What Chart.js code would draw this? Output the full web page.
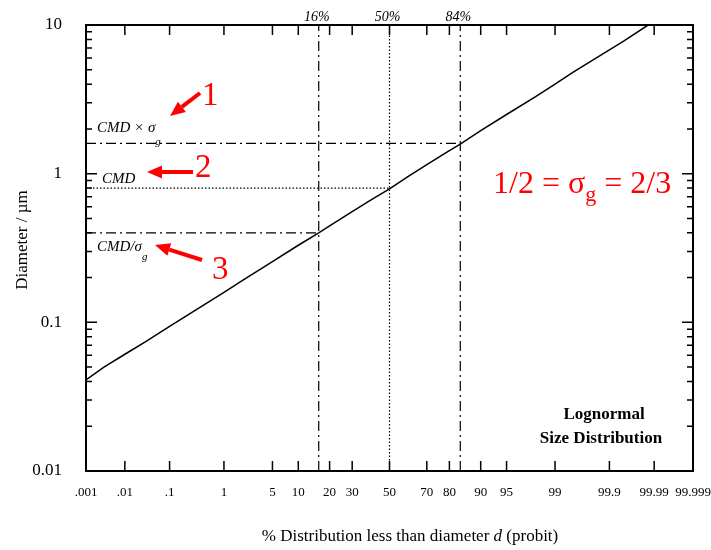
<!DOCTYPE html>
<html>
<head>
<meta charset="utf-8">
<title>Lognormal size distribution</title>
<script src="https://cdn.jsdelivr.net/npm/chart.js@4.4.0/dist/chart.umd.min.js"></script>
<style>
  html, body { margin: 0; padding: 0; background: #fff; }
  #wrap { width: 711px; height: 550px; }
</style>
</head>
<body>
<div id="wrap"><canvas id="chart" width="711" height="550"></canvas></div>
<script>
// probit axis ticks (% less than d)
const pctTicks  = [0.001, 0.01, 0.1, 1, 5, 10, 20, 30, 50, 70, 80, 90, 95, 99, 99.9, 99.99, 99.999];
const pctLabels = ['.001', '.01', '.1', '1', '5', '10', '20', '30', '50', '70', '80', '90', '95', '99', '99.9', '99.99', '99.999'];

// diameter axis (um)
const diamTicks  = [0.01, 0.1, 1, 10];
const diamLabels = ['0.01', '0.1', '1', '10'];

// cumulative curve
const curvePct  = [0.001, 0.003, 0.01, 0.03, 0.1, 0.3, 1, 2, 5, 10, 16, 20, 30, 40, 50, 60, 70, 80, 84, 90, 95, 98, 99, 99.5, 99.9, 99.95, 99.986];
const curveDiam = [0.041, 0.05, 0.061, 0.074, 0.094, 0.119, 0.159, 0.193, 0.256, 0.33, 0.40, 0.446, 0.556, 0.67, 0.79, 0.95, 1.15, 1.43, 1.58, 1.95, 2.5, 3.3, 4.0, 4.8, 6.8, 7.8, 10];

// 16 / 50 / 84 % guide lines and the diameters they meet
const guidePct    = [16, 50, 84];
const guideLabels = ['16%', '50%', '84%'];
const guideDiam   = [0.4, 0.8, 1.6];

const SERIF = '"Liberation Serif", "Times New Roman", serif';
const RED = '#ff0000';

// inverse normal cdf (Acklam), percent -> z
function probit(pct) {
  const p = pct / 100;
  const a = [-3.969683028665376e+01, 2.209460984245205e+02, -2.759285104469687e+02, 1.383577518672690e+02, -3.066479806614716e+01, 2.506628277459239e+00];
  const b = [-5.447609879822406e+01, 1.615858368580409e+02, -1.556989798598866e+02, 6.680131188771972e+01, -1.328068155288572e+01];
  const c = [-7.784894002430293e-03, -3.223964580411365e-01, -2.400758277161838e+00, -2.549671348086720e+00, 4.374664141464968e+00, 2.938163982698783e+00];
  const d = [7.784695709041462e-03, 3.224671290700398e-01, 2.445134137142996e+00, 3.754408661907416e+00];
  const lo = 0.02425, hi = 1 - lo;
  let q, r;
  if (p < lo) {
    q = Math.sqrt(-2 * Math.log(p));
    return (((((c[0]*q+c[1])*q+c[2])*q+c[3])*q+c[4])*q+c[5]) / ((((d[0]*q+d[1])*q+d[2])*q+d[3])*q+1);
  }
  if (p <= hi) {
    q = p - 0.5; r = q * q;
    return (((((a[0]*r+a[1])*r+a[2])*r+a[3])*r+a[4])*r+a[5])*q / (((((b[0]*r+b[1])*r+b[2])*r+b[3])*r+b[4])*r+1);
  }
  q = Math.sqrt(-2 * Math.log(1 - p));
  return -(((((c[0]*q+c[1])*q+c[2])*q+c[3])*q+c[4])*q+c[5]) / ((((d[0]*q+d[1])*q+d[2])*q+d[3])*q+1);
}

const xMin = probit(pctTicks[0]);
const xMax = probit(pctTicks[pctTicks.length - 1]);
const yMin = diamTicks[0], yMax = diamTicks[diamTicks.length - 1];

const DASHDOT = [10, 4, 2, 4];
const DOTTED  = [1.5, 2];
const guideDash = [DASHDOT, DOTTED, DASHDOT];

/* ---------- datasets ---------- */
const datasets = [{
  data: curvePct.map((p, i) => ({ x: probit(p), y: curveDiam[i] })),
  borderColor: '#000', borderWidth: 1.5, pointRadius: 0, tension: 0
}];
guidePct.forEach((p, i) => {
  // vertical line at the percentile
  datasets.push({
    data: [{ x: probit(p), y: yMin }, { x: probit(p), y: yMax }],
    borderColor: '#000', borderWidth: 1.2, borderDash: guideDash[i], pointRadius: 0
  });
  // horizontal line from the axis to the percentile
  datasets.push({
    data: [{ x: xMin, y: guideDiam[i] }, { x: probit(p), y: guideDiam[i] }],
    borderColor: '#000', borderWidth: 1.2, borderDash: guideDash[i], pointRadius: 0
  });
});

/* ---------- frame, inward ticks and annotations ---------- */
function arrow(ctx, x1, y1, x2, y2) {
  const ang = Math.atan2(y2 - y1, x2 - x1);
  const hl = 15, hw = 6.5;
  const bx = x2 - hl * Math.cos(ang), by = y2 - hl * Math.sin(ang);
  ctx.strokeStyle = RED; ctx.fillStyle = RED; ctx.lineWidth = 4;
  ctx.beginPath(); ctx.moveTo(x1, y1); ctx.lineTo(bx, by); ctx.stroke();
  ctx.beginPath();
  ctx.moveTo(x2, y2);
  ctx.lineTo(bx + hw * Math.sin(ang), by - hw * Math.cos(ang));
  ctx.lineTo(bx - hw * Math.sin(ang), by + hw * Math.cos(ang));
  ctx.closePath(); ctx.fill();
}

function subText(ctx, x, y, main, sub, size, subSize, drop, rest) {
  // main text, subscript, optional trailing text; left aligned at x
  ctx.textAlign = 'left';
  ctx.fillText(main, x, y);
  let w = ctx.measureText(main).width;
  const f = ctx.font;
  ctx.font = f.replace(size + 'px', subSize + 'px');
  ctx.fillText(sub, x + w, y + drop);
  w += ctx.measureText(sub).width;
  ctx.font = f;
  if (rest) ctx.fillText(rest, x + w, y);
}

const decor = {
  id: 'decor',
  afterDatasetsDraw(chart) {
    const { ctx, chartArea: ca, scales: { x, y } } = chart;
    ctx.save();
    ctx.strokeStyle = '#000';
    ctx.lineWidth = 2;
    ctx.setLineDash([]);
    ctx.strokeRect(ca.left, ca.top, ca.right - ca.left, ca.bottom - ca.top);

    ctx.lineWidth = 1.5;
    ctx.beginPath();
    pctTicks.forEach(p => {
      const px = x.getPixelForValue(probit(p));
      ctx.moveTo(px, ca.bottom); ctx.lineTo(px, ca.bottom - 10);
      ctx.moveTo(px, ca.top); ctx.lineTo(px, ca.top + 10);
    });
    for (let dec = yMin; dec < yMax; dec *= 10) {
      for (let m = 1; m <= 10; m++) {
        const py = y.getPixelForValue(dec * m);
        const len = (m === 1 || m === 10) ? 11 : 6;
        ctx.moveTo(ca.left, py); ctx.lineTo(ca.left + len, py);
        ctx.moveTo(ca.right, py); ctx.lineTo(ca.right - len, py);
      }
    }
    ctx.stroke();

    // percentile labels above the frame
    ctx.fillStyle = '#000';
    ctx.font = 'italic 14px ' + SERIF;
    ctx.textAlign = 'center';
    ctx.textBaseline = 'alphabetic';
    guidePct.forEach((p, i) => ctx.fillText(guideLabels[i], x.getPixelForValue(probit(p)) - 2, ca.top - 4));

    // CMD labels
    const L = ca.left;
    ctx.font = 'italic 15px ' + SERIF;
    subText(ctx, L + 11, y.getPixelForValue(guideDiam[2]) - 11, 'CMD \u00d7 \u03c3', 'g', 15, 11, 13);
    ctx.textAlign = 'left';
    ctx.fillText('CMD', L + 16, y.getPixelForValue(guideDiam[1]) - 5);
    subText(ctx, L + 11, y.getPixelForValue(guideDiam[0]) + 18, 'CMD/\u03c3', 'g', 15, 11, 9);

    // red arrows and numbers
    arrow(ctx, L + 114, 93, L + 84, 116);
    arrow(ctx, L + 107, 172, L + 61, 172);
    arrow(ctx, L + 116, 260, L + 69, 245);
    ctx.fillStyle = RED;
    ctx.font = '33px ' + SERIF;
    ctx.textAlign = 'left';
    ctx.fillText('1', L + 116, 105);
    ctx.fillText('2', L + 109, 177);
    ctx.fillText('3', L + 126, 279);

    ctx.font = '32px ' + SERIF;
    subText(ctx, 493, 193, '1/2 = \u03c3', 'g', 32, 22, 8, ' = 2/3');

    // title block
    ctx.fillStyle = '#000';
    ctx.font = 'bold 17px ' + SERIF;
    ctx.textAlign = 'center';
    ctx.fillText('Lognormal', 604, 419);
    ctx.fillText('Size Distribution', 601, 443);

    // axis titles
    ctx.font = '17px ' + SERIF;
    const t1 = '% Distribution less than diameter ', t2 = 'd', t3 = ' (probit)';
    const w1 = ctx.measureText(t1).width, w3 = ctx.measureText(t3).width;
    ctx.font = 'italic 17px ' + SERIF;
    const w2 = ctx.measureText(t2).width;
    const tx = 410 - (w1 + w2 + w3) / 2;
    ctx.textAlign = 'left';
    ctx.font = '17px ' + SERIF;
    ctx.fillText(t1, tx, 541);
    ctx.font = 'italic 17px ' + SERIF;
    ctx.fillText(t2, tx + w1, 541);
    ctx.font = '17px ' + SERIF;
    ctx.fillText(t3, tx + w1 + w2, 541);

    ctx.translate(27, 240);
    ctx.rotate(-Math.PI / 2);
    ctx.textAlign = 'center';
    ctx.fillText('Diameter / \u00b5m', 0, 0);
    ctx.restore();
  }
};

new Chart(document.getElementById('chart'), {
  type: 'line',
  data: { datasets },
  options: {
    responsive: false,
    animation: false,
    events: [],
    layout: { padding: { top: 25, right: 18, left: 0, bottom: 0 } },
    plugins: { legend: { display: false }, tooltip: { enabled: false } },
    scales: {
      x: {
        type: 'linear', min: xMin, max: xMax,
        grid: { display: false }, border: { display: false },
        afterBuildTicks: s => { s.ticks = pctTicks.map(p => ({ value: probit(p) })); },
        afterFit: s => { s.height = 79; s.paddingLeft = 0; s.paddingRight = 0; },
        ticks: {
          autoSkip: false, maxRotation: 0, padding: 6, color: '#000',
          font: { family: SERIF, size: 13 },
          callback: (v, i) => pctLabels[i]
        }
      },
      y: {
        type: 'logarithmic', min: yMin, max: yMax,
        grid: { display: false }, border: { display: false },
        afterBuildTicks: s => { s.ticks = diamTicks.map(v => ({ value: v, major: true })); },
        afterFit: s => { s.width = 86; s.paddingTop = 0; s.paddingBottom = 0; },
        ticks: {
          autoSkip: false, padding: 16, color: '#000',
          font: { family: SERIF, size: 17 },
          callback: (v, i) => diamLabels[i]
        }
      }
    }
  },
  plugins: [decor]
});
</script>
</body>
</html>
